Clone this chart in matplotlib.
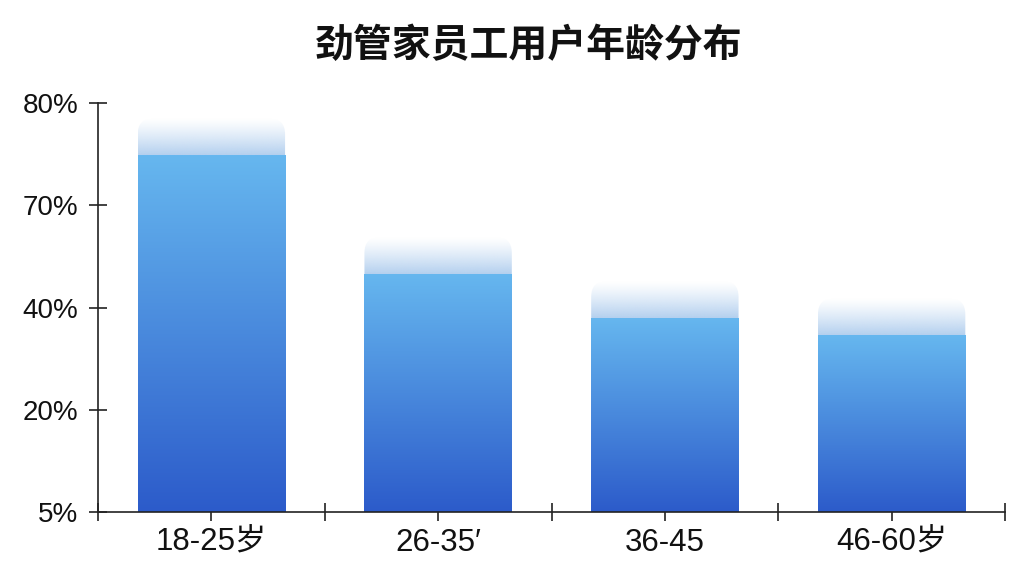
import numpy as np
import matplotlib
matplotlib.use('Agg')
import matplotlib.pyplot as plt
from matplotlib.patches import FancyBboxPatch
from matplotlib.colors import to_rgb

# ---- data ----
categories = ['18-25岁', '26-35′', '36-45', '46-60岁']
values = [3.49, 2.33, 1.90, 1.73]          # bar heights on the axis' own (evenly spaced) scale
ytick_pos = [0, 1, 2, 3, 4]
ytick_labels = ['5%', '20%', '40%', '70%', '80%']
title = '劲管家员工用户年龄分布'

plt.rcParams['font.family'] = ['Liberation Sans', 'Noto Sans CJK SC', 'DejaVu Sans']

fig = plt.figure(figsize=(10.24, 5.76), dpi=100)
ax = fig.add_axes([98/1024, 64/576, 907/1024, 409/576])

x = np.arange(len(categories))
bw = 0.65

top_c = np.array(to_rgb('#66b7ef'))
bot_c = np.array(to_rgb('#2c5bca'))
t = np.linspace(0, 1, 256)[:, None, None]
bar_img = bot_c + (top_c - bot_c) * t          # origin lower: bottom -> top

haze_c = np.array(to_rgb('#b4d0ef'))
th = np.linspace(0, 1, 256)[:, None]
haze_img = np.zeros((256, 1, 4))
haze_img[..., :3] = haze_c
haze_img[..., 3] = np.clip((1 - th) ** 1.2, 0, 1)

bars = ax.bar(x, values, width=bw, color='none', edgecolor='none', zorder=2)
haze_h = 0.36
overlap = 0.25
for b in bars:
    x0, y0, w, h = b.get_x(), b.get_y(), b.get_width(), b.get_height()
    im = ax.imshow(bar_img, extent=[x0, x0 + w, y0, y0 + h], origin='lower',
                   aspect='auto', zorder=2, interpolation='bilinear')
    im.set_clip_path(b)
    hb = y0 + h - overlap
    patch = FancyBboxPatch((x0, hb), w, haze_h + overlap,
                           boxstyle='round,pad=0,rounding_size=0.07',
                           mutation_aspect=2.22, facecolor='none', edgecolor='none')
    ax.add_patch(patch)
    him = ax.imshow(haze_img, extent=[x0, x0 + w, y0 + h, y0 + h + haze_h], origin='lower',
                    aspect='auto', zorder=1.5, interpolation='bilinear')
    him.set_clip_path(patch)

ax.set_xlim(-0.5, len(categories) - 0.5)
ax.set_ylim(0, 4)

for s in ['top', 'right']:
    ax.spines[s].set_visible(False)
for s in ['left', 'bottom']:
    ax.spines[s].set_color('#222222')
    ax.spines[s].set_linewidth(1.2)

ax.set_yticks(ytick_pos)
ax.set_yticklabels(ytick_labels, fontsize=20, color='#111111')
ax.tick_params(axis='y', direction='inout', length=13.5, width=1.2, color='#222222', pad=7.5)

ax.set_xticks(x)
ax.set_xticklabels(categories, fontsize=22.5, color='#111111')
ax.set_xticks(np.arange(-0.5, len(categories), 1.0), minor=True)
ax.tick_params(axis='x', which='major', direction='out', length=6.5, width=1.2, color='#222222', pad=5)
ax.tick_params(axis='x', which='minor', direction='inout', length=13.5, width=1.2, color='#222222')

fig.text(529/1024, 1 - 45/576, title, ha='center', va='center', fontsize=28,
         fontweight='bold', family=['Noto Sans CJK SC', 'DejaVu Sans'], color='#111111')

fig.savefig('out.png', dpi=100, facecolor='white')
